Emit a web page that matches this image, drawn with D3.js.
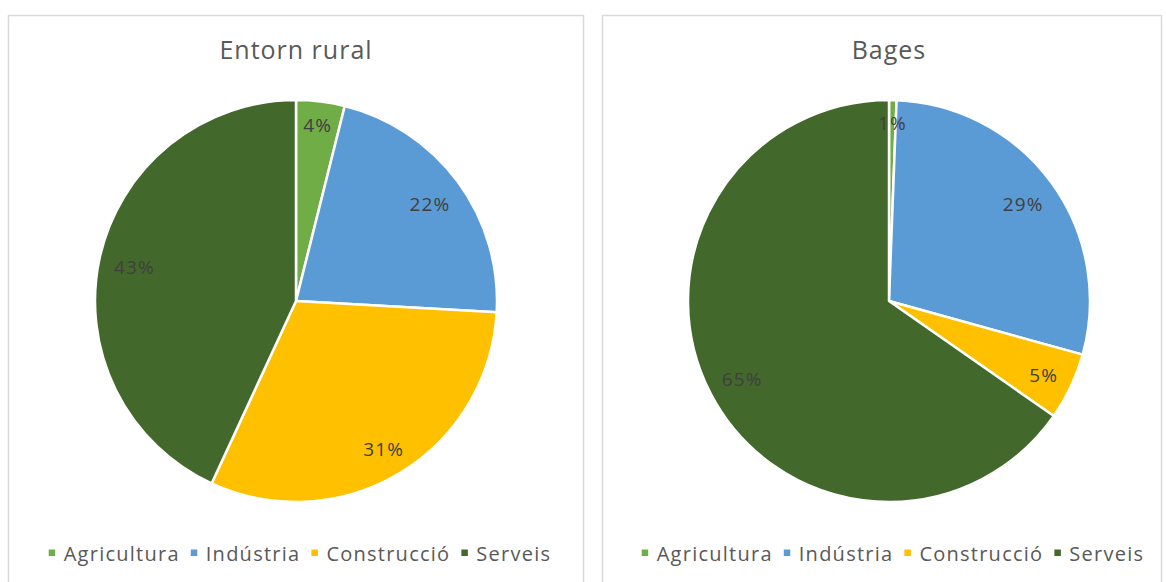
<!DOCTYPE html>
<html>
<head>
<meta charset="utf-8">
<script src="https://cdn.jsdelivr.net/npm/d3@7"></script>
<style>
  html, body { margin: 0; padding: 0; background: #fff; }
  svg { display: block; }
  text { font-family: "Open Sans", "DejaVu Sans", sans-serif; }
</style>
</head>
<body>
<svg id="chart" width="1166" height="582"></svg>
<script>
// ---- data ----
const categories = ["Agricultura", "Indústria", "Construcció", "Serveis"];
const chartTitles = ["Entorn rural", "Bages"];
const entornRuralValues = [3.9, 22.0, 31.0, 43.1];
const entornRuralLabels = ["4%", "22%", "31%", "43%"];
const bagesValues = [0.6, 28.7, 5.4, 65.3];
const bagesLabels = ["1%", "29%", "5%", "65%"];
const colors = ["#70AD47", "#5B9BD5", "#FFC000", "#43682B"];

const svg = d3.select("#chart");
const color = d3.scaleOrdinal().domain(categories).range(colors);

const panels = [
  { title: chartTitles[0], values: entornRuralValues, labels: entornRuralLabels, x0: 8, x1: 583, cx: 296 },
  { title: chartTitles[1], values: bagesValues, labels: bagesLabels, x0: 602, x1: 1161, cx: 889 }
];
const cy = 301, R = 201;

panels.forEach(p => {
  const g = svg.append("g");
  g.append("rect")
    .attr("x", p.x0 + 0.5).attr("y", 15.5)
    .attr("width", p.x1 - p.x0).attr("height", 600)
    .attr("fill", "#fff").attr("stroke", "#D9D9D9").attr("stroke-width", 1.5);

  g.append("text")
    .attr("x", p.cx).attr("y", 59)
    .attr("text-anchor", "middle")
    .attr("font-size", "25px").attr("fill", "#595959")
    .attr("letter-spacing", "1px")
    .text(p.title);

  const data = categories.map((c, i) => ({ cat: c, value: p.values[i], label: p.labels[i] }));
  const pie = d3.pie().sort(null).value(d => d.value);
  const arcs = pie(data);
  const arc = d3.arc().innerRadius(0).outerRadius(R);

  const pg = g.append("g").attr("transform", `translate(${p.cx},${cy})`);
  pg.selectAll("path").data(arcs).join("path")
    .attr("d", arc)
    .attr("fill", d => color(d.data.cat))
    .attr("stroke", "#fff").attr("stroke-width", 2.5).attr("stroke-linejoin", "round");

  // inside-end labels: box edge kept at a fixed distance inside the rim
  const rim = R - 14;
  pg.selectAll("text").data(arcs).join("text")
    .attr("text-anchor", "middle").attr("dy", "0.44em")
    .attr("font-size", "19px").attr("fill", "#404040")
    .attr("letter-spacing", "1.2px")
    .text(d => d.data.label)
    .each(function(d) {
      const w = this.getComputedTextLength();
      const h = 14;
      const a = (d.startAngle + d.endAngle) / 2;
      const ux = Math.sin(a), uy = -Math.cos(a);
      const r = rim - (Math.abs(ux) * w / 2 + Math.abs(uy) * h / 2);
      d3.select(this).attr("transform", `translate(${ux * r},${uy * r})`);
    });

  // legend
  const lg = g.append("g");
  const items = lg.selectAll("g").data(categories).join("g");
  items.append("rect").attr("width", 6.5).attr("height", 6.5).attr("y", -11.5)
    .attr("fill", d => color(d));
  items.append("text").attr("x", 15).attr("y", 0)
    .attr("font-size", "20px").attr("fill", "#595959")
    .attr("letter-spacing", "1.25px")
    .text(d => d);
  let xPos = 0;
  items.each(function() {
    const t = d3.select(this).select("text").node();
    const w = t.getComputedTextLength();
    d3.select(this).attr("transform", `translate(${xPos},0)`);
    xPos += 15 + w + 11;
  });
  const total = xPos - 11;
  lg.attr("transform", `translate(${p.cx + 4 - total / 2},561)`);
});
</script>
</body>
</html>
